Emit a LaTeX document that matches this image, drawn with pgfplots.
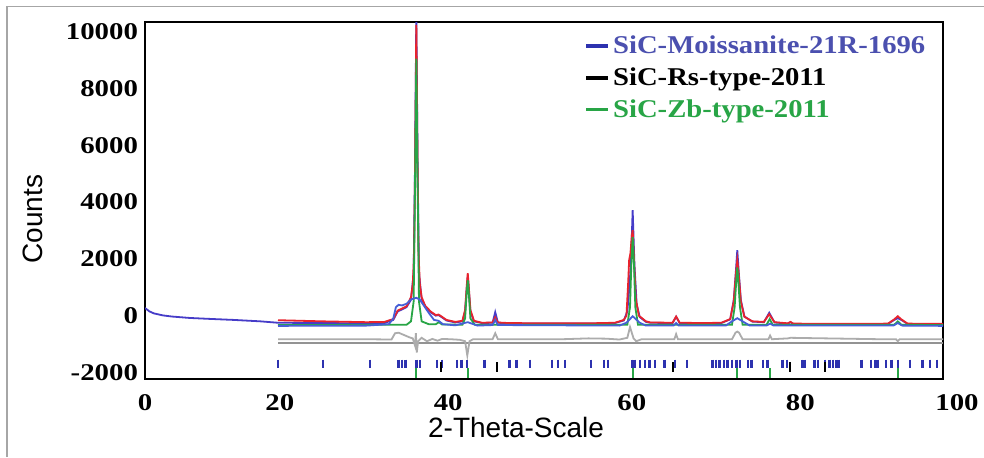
\documentclass[border=0pt]{standalone}
\usepackage{pgfplots}
\pgfplotsset{compat=1.18}
\usepackage{fontspec}
\setmainfont{Liberation Serif}
\newfontfamily\tickfont[FakeStretch=1.2]{Liberation Serif}
\newfontfamily\legfont[FakeStretch=1.12]{Liberation Serif}
\newfontfamily\labfont{Liberation Sans}

\definecolor{obsred}{RGB}{232,35,45}
\definecolor{calcblue}{RGB}{70,60,200}
\definecolor{zbgreen}{RGB}{40,165,70}
\definecolor{moisblue}{RGB}{70,95,215}
\definecolor{tickblue}{RGB}{45,50,175}
\definecolor{legblue}{RGB}{75,80,175}

\begin{document}
\begin{tikzpicture}
\useasboundingbox (0,0) rectangle (492pt,-228.5pt);
\fill[white] (0,0) rectangle (492pt,-228.5pt);
\draw[gray!70, line width=0.8pt] (3.5pt,-228.5pt) -- (3.5pt,-3.3pt) -- (492pt,-3.3pt);
\begin{axis}[
    name=ax,
    at={(72.5pt,-189.5pt)}, anchor=south west,
    scale only axis, width=399pt, height=178.5pt,
    xmin=5, xmax=95, ymin=-2230, ymax=10335,
    scaled ticks=false,
    xtick={5,20.2,39.2,59.9,78.9},
    xticklabels={0,20,40,60,80},
    ytick={-2000,0,2000,4000,6000,8000,10000},
    yticklabels={-2000,0,2000,4000,6000,8000,10000},
    major tick length=0pt,
    tick label style={font=\tickfont\bfseries\fontsize{12}{14}\selectfont},
    xticklabel style={yshift=-4pt},
    axis line style={line width=0.9pt},
    xlabel={2-Theta-Scale}, ylabel={Counts},
    label style={font=\labfont\fontsize{14}{16}\selectfont},
    xlabel style={at={(axis description cs:0.465,0)}, anchor=center, yshift=-24pt},
    ylabel style={at={(axis description cs:-0.1404,0.448)}, anchor=center},
    legend style={at={(axis description cs:0.543,0.985)}, anchor=north west,
        draw=none, fill=none, row sep=1.5pt,
        nodes={inner xsep=1.5pt},
        font=\legfont\bfseries\fontsize{12.8}{14}\selectfont},
    legend cell align=left,
]
% difference curve and its zero line
\addplot[gray!85, line width=0.8pt, forget plot] coordinates {(20,-960) (95,-960)};
\addplot[gray!65, line width=0.9pt, forget plot] coordinates {
(20,-830) (30,-830) (32.8,-840) (33.2,-620) (33.6,-600) (34.2,-680) (34.8,-760)
(35.2,-800) (35.45,-1050) (35.55,-620) (35.65,-1300) (35.8,-900) (36.2,-780)
(36.8,-900) (37.4,-820) (38,-880) (38.5,-820) (39.5,-830) (40.5,-850) (41.1,-900)
(41.35,-1400) (41.6,-900) (42,-830) (44.2,-830) (44.5,-620) (44.8,-830) (52,-830)
(55,-800) (57,-810) (58.5,-840) (59.4,-780) (59.7,-400) (59.9,-600) (60.1,-800)
(60.4,-900) (61,-830) (64.7,-830) (64.9,-650) (65.1,-830) (71.2,-830) (71.6,-600)
(71.8,-560) (72.0,-600) (72.4,-830) (75.3,-830) (75.5,-700) (75.7,-830) (77.5,-800)
(77.8,-780) (88,-830) (89.7,-830) (89.9,-900) (90.1,-830) (95,-830)};
% calculated
\addplot[calcblue, line width=0.9pt, forget plot] coordinates {
(5,270) (5.5,150) (6,80) (7,10) (8,-30) (10,-80) (12,-110) (15,-150) (18,-200)
(20,-250) (25,-260) (30,-270) (32,-260) (33,-150) (33.5,150) (34,220) (34.5,300)
(35,560) (35.3,1500) (35.45,5200) (35.6,10600) (35.75,5200) (35.9,1500) (36.2,580)
(36.6,330) (37.2,120) (37.8,0) (38.1,20) (38.4,-40) (39,-170) (40,-240) (40.8,-200)
(41.1,150) (41.3,1000) (41.4,1380) (41.5,1000) (41.7,150) (42.1,-200) (43,-260)
(44.2,-250) (44.5,123) (44.8,-250) (46,-270) (50,-280) (55,-280) (58,-260)
(59.0,-170) (59.4,150) (59.6,900) (59.8,1800) (60.0,3715) (60.2,1800) (60.45,400)
(60.8,-50) (61.5,-220) (62,-250) (64.5,-260) (64.9,-40) (65.3,-260) (68,-270)
(70,-260) (71,-130) (71.4,550) (71.65,1600) (71.8,2306) (71.95,1600) (72.2,550)
(72.6,-30) (73.5,-210) (74.8,-230) (75.4,100) (76.0,-240) (77.5,-280) (77.8,-230)
(78.1,-290) (85,-300) (88.8,-290) (89.5,-150) (89.9,-90) (90.3,-150) (91,-290)
(95,-300)};
% observed
\addplot[obsred, line width=0.9pt, forget plot] coordinates {
(20,-160) (25,-200) (30,-230) (32,-220) (33,-120) (33.5,180) (34,250) (34.5,330)
(35,650) (35.2,1100) (35.35,2200) (35.45,5000) (35.6,10230) (35.75,5000) (35.85,2200)
(36.0,1100) (36.2,650) (36.6,350) (37.2,150) (37.8,20) (38.1,40) (38.4,-20) (39,-150)
(40,-220) (40.8,-180) (41.1,200) (41.3,1100) (41.4,1497) (41.5,1100) (41.7,200)
(42.1,-180) (43,-250) (44.2,-240) (44.5,-60) (44.8,-240) (46,-260) (50,-270)
(55,-270) (58,-250) (59.0,-150) (59.3,0) (59.5,1200) (59.6,1950) (59.75,2200)
(59.9,2800) (60.0,3010) (60.15,2000) (60.35,600) (60.7,0) (61.5,-200) (62,-240)
(64.5,-250) (64.9,-30) (65.3,-250) (68,-260) (70,-250) (71,-120) (71.4,500)
(71.65,1500) (71.8,1950) (71.95,1500) (72.2,500) (72.6,-40) (73.5,-200) (74.8,-220)
(75.4,50) (76.0,-230) (77.5,-270) (77.8,-220) (78.1,-280) (85,-290) (88.8,-280)
(89.5,-130) (89.9,-20) (90.3,-130) (91,-280) (95,-290)};
% Zb phase
\addplot[zbgreen, line width=0.9pt, forget plot] coordinates {
(20,-330) (34.5,-320) (35.0,-200) (35.3,500) (35.45,4500) (35.6,9050) (35.75,4500)
(35.9,500) (36.2,-200) (37,-300) (37.8,-300) (38.15,-230) (38.5,-310) (40.8,-320)
(41.1,-100) (41.3,900) (41.4,1250) (41.5,900) (41.7,-100) (42.2,-320) (59.4,-320)
(59.7,300) (59.85,1800) (60.0,2765) (60.15,1800) (60.3,300) (60.6,-320) (71.2,-320)
(71.5,300) (71.7,1300) (71.8,1700) (71.9,1300) (72.1,300) (72.4,-320) (75.1,-320)
(75.45,-120) (75.8,-320) (89.5,-320) (89.9,-200) (90.3,-320) (95,-330)};
% Moissanite phase
\addplot[moisblue, line width=0.9pt, forget plot] coordinates {
(20,-360) (30,-350) (32.5,-300) (33.0,-100) (33.3,300) (33.6,380) (34.0,360)
(34.5,420) (35.0,570) (35.6,630) (36.0,560) (36.5,330) (37,100) (37.6,-150)
(38.1,-180) (38.6,-300) (40,-340) (41.4,-230) (42.5,-350) (44.2,-330) (44.5,-150)
(44.8,-330) (58.5,-350) (59.3,-250) (60.0,-20) (60.8,-250) (61.5,-350) (64.6,-350)
(64.9,-260) (65.2,-350) (70.5,-350) (71.2,-200) (71.8,-90) (72.4,-200) (73.2,-350)
(75.1,-350) (75.5,-280) (75.9,-350) (89.4,-350) (89.9,-260) (90.4,-350) (95,-360)};
% reflection markers
\addplot[only marks, mark=|, mark size=2pt, tickblue, mark options={line width=1.2pt},
    legend image code/.code={\draw[tickblue, line width=1.7pt] (0pt,0pt) -- (11pt,0pt);}]
coordinates {
(20.0,-1690) (25.1,-1690) (30.4,-1690) (33.6,-1690) (34.0,-1690) (34.4,-1690)
(35.6,-1690) (36.0,-1690) (37.9,-1690) (38.5,-1690) (40.2,-1690) (40.7,-1690)
(41.3,-1690) (43.3,-1690) (46.1,-1690) (46.9,-1690) (48.4,-1690) (50.9,-1690)
(51.6,-1690) (52.4,-1690) (55.3,-1690) (56.8,-1690) (57.2,-1690) (59.9,-1690)
(60.2,-1690) (60.8,-1690) (61.4,-1690) (61.9,-1690) (62.5,-1690) (63.6,-1690)
(64.8,-1690) (66.1,-1690) (69.0,-1690) (69.4,-1690) (69.8,-1690) (70.3,-1690)
(70.7,-1690) (71.2,-1690) (71.7,-1690) (72.1,-1690) (73.0,-1690) (73.4,-1690)
(74.7,-1690) (75.2,-1690) (76.9,-1690) (77.4,-1690) (79.1,-1690) (79.4,-1690)
(80.5,-1690) (80.9,-1690) (81.7,-1690) (82.2,-1690) (82.6,-1690) (83.0,-1690)
(83.3,-1690) (85.8,-1690) (86.9,-1690) (87.3,-1690) (87.6,-1690) (88.6,-1690)
(89.2,-1690) (89.9,-1690) (91.3,-1690) (92.7,-1690) (93.5,-1690) (94.3,-1690)};
\addlegendentry{\textcolor{legblue}{SiC-Moissanite-21R-1696}}
\addplot[only marks, mark=|, mark size=2.5pt, black, mark options={line width=1pt},
    legend image code/.code={\draw[black, line width=1.7pt] (0pt,0pt) -- (11pt,0pt);}]
coordinates {(38.4,-1810) (44.7,-1810) (64.6,-1810) (77.7,-1810) (81.7,-1810)};
\addlegendentry{SiC-Rs-type-2011}
\addplot[only marks, mark=|, mark size=2.3pt, zbgreen, mark options={line width=1pt},
    legend image code/.code={\draw[zbgreen, line width=1.7pt] (0pt,0pt) -- (11pt,0pt);}]
coordinates {(35.6,-2020) (41.4,-2020) (60.0,-2020) (71.8,-2020) (75.5,-2020) (89.9,-2020)};
\addlegendentry{\textcolor{zbgreen}{SiC-Zb-type-2011}}
\end{axis}
\node[anchor=north, xshift=7pt, yshift=-4pt, font=\tickfont\bfseries\fontsize{12}{14}\selectfont]
    at (ax.south east) {100};
\end{tikzpicture}
\end{document}
